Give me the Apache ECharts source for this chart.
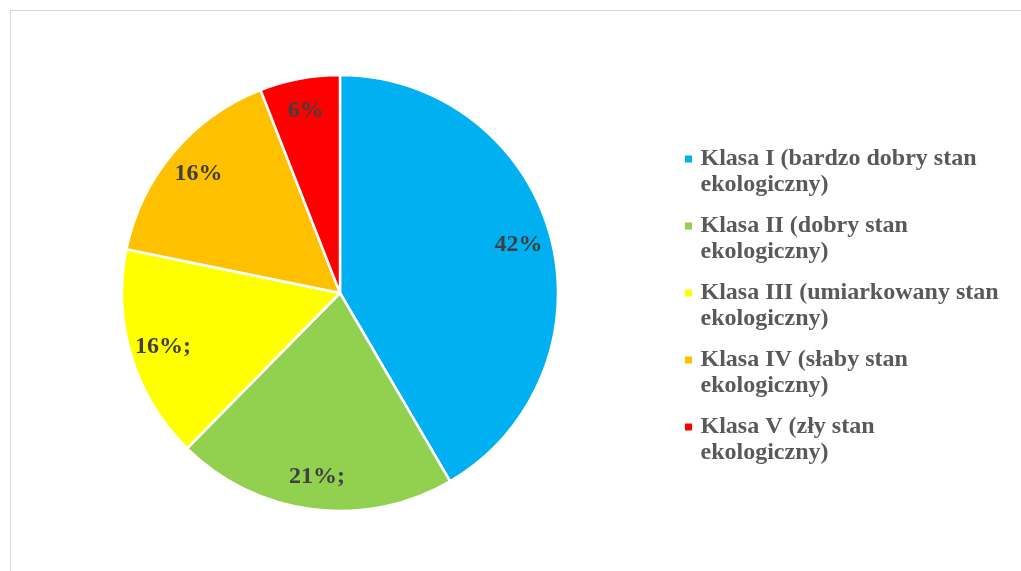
<!DOCTYPE html>
<html>
<head>
<meta charset="utf-8">
<script src="https://cdn.jsdelivr.net/npm/echarts@6/dist/echarts.min.js"></script>
<style>
  html, body { margin: 0; padding: 0; background: #fff; }
  #chart { width: 1021px; height: 571px; }
</style>
</head>
<body>
<div id="chart"></div>
<script>
// Ecological status classes and their shares (%)
const classNames = [
  'Klasa I (bardzo dobry stan ekologiczny)',
  'Klasa II (dobry stan ekologiczny)',
  'Klasa III (umiarkowany stan ekologiczny)',
  'Klasa IV (słaby stan ekologiczny)',
  'Klasa V (zły stan ekologiczny)'
];
const shares = [42, 21, 16, 16, 6];
const labelSuffixes = ['', ';', ';', '', ''];
const classColors = ['#00B0F0', '#92D050', '#FFFF00', '#FFC000', '#FF0000'];

const FONT = '"Liberation Serif", "Times New Roman", serif';

const pieData = classNames.map((name, i) => ({
  name: name,
  value: shares[i],
  itemStyle: { color: classColors[i] }
}));

const labelData = classNames.map((name, i) => ({
  name: name,
  value: shares[i],
  suffix: labelSuffixes[i]
}));

const chart = echarts.init(document.getElementById('chart'), null, { renderer: 'canvas' });

chart.setOption({
  animation: false,
  backgroundColor: '#ffffff',
  graphic: [{
    type: 'rect',
    silent: true,
    shape: { x: 10.5, y: 10.5, width: 1100, height: 700 },
    style: { fill: 'none', stroke: '#d9d9d9', lineWidth: 1 }
  }],
  legend: {
    orient: 'vertical',
    left: 680,
    top: 115,
    data: classNames,
    icon: 'path://M0,0h10v10h-10z',
    symbolKeepAspect: true,
    itemWidth: 14,
    itemHeight: 7,
    itemGap: -11,
    selectedMode: false,
    itemStyle: { borderWidth: 0 },
    // a blank first line keeps the marker level with the first text line
    formatter: name => '\u00a0\n' + name.replace(' ekologiczny)', '\nekologiczny)'),
    textStyle: {
      fontFamily: FONT,
      fontWeight: 'bold',
      fontSize: 24,
      lineHeight: 26,
      color: '#595959'
    }
  },
  series: [
    {
      type: 'pie',
      center: [340, 293],
      radius: [0, 218],
      startAngle: 90,
      clockwise: true,
      silent: true,
      label: { show: false },
      labelLine: { show: false },
      itemStyle: { borderColor: '#ffffff', borderWidth: 2.5 },
      data: pieData
    },
    {
      // transparent ring used only to place the value labels near the rim
      type: 'pie',
      center: [340, 293],
      radius: [146, 218],
      startAngle: 90,
      clockwise: true,
      silent: true,
      itemStyle: { color: 'rgba(0,0,0,0)', borderWidth: 0 },
      labelLine: { show: false },
      label: {
        show: true,
        position: 'inside',
        formatter: p => p.value + '%' + (p.data.suffix || ''),
        fontFamily: FONT,
        fontWeight: 'bold',
        fontSize: 24,
        color: '#404040'
      },
      data: labelData
    }
  ]
});
</script>
</body>
</html>
